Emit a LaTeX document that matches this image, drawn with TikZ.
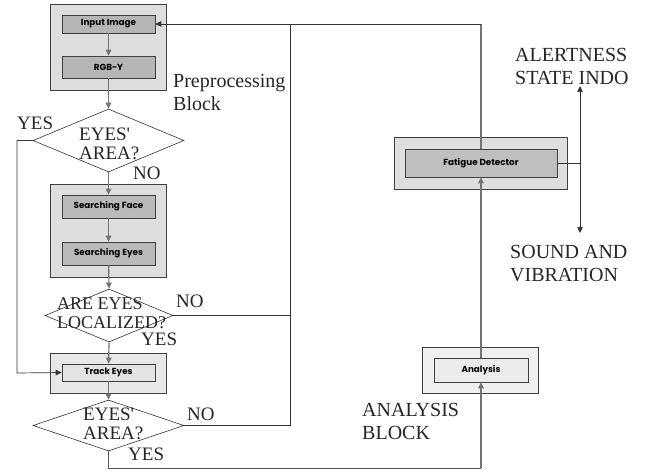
\documentclass[tikz,border=0pt]{standalone}
\usepackage{fontspec}
\setmainfont{Liberation Serif}
\newfontfamily\boxfont{Poppins}
\usetikzlibrary{arrows.meta,shapes.geometric}
\begin{document}
\begin{tikzpicture}[x=1pt,y=-1pt,
  outerbox/.style={draw=black!75, line width=0.6pt, fill=#1, rectangle, inner sep=0pt},
  innerbox/.style={draw=black!75, line width=0.6pt, fill=#1, rectangle, inner sep=0pt,
    font=\boxfont\bfseries\fontsize{8.8}{10}\selectfont},
  dec/.style={draw=black!80, line width=0.6pt, fill=white, diamond, inner sep=0pt},
  bigtext/.style={anchor=north west, inner sep=0pt, align=left, text=black!85,
    font=\fontsize{20}{23}\selectfont},
  dtext/.style={anchor=north west, inner sep=0pt, align=left, text=black!85,
    font=\fontsize{19}{19}\selectfont},
  conn/.style={draw=black!55, line width=1.2pt},
  fb/.style={draw=black!80, line width=0.7pt},
  tip/.style={-{Triangle[length=6pt,width=5.5pt]}},
]
\useasboundingbox (0,0) rectangle (646,473);
\fill[white] (0,0) rectangle (646,473);

% outer blocks
\node[outerbox=black!13, minimum width=116, minimum height=86] (pre) at (108,47) {};
\node[outerbox=black!13, minimum width=116, minimum height=93] (srch) at (108,230.5) {};
\node[outerbox=black!9, minimum width=116, minimum height=40] (trk) at (108,373) {};
\node[outerbox=black!13, minimum width=173, minimum height=52] (fatout) at (480.5,163) {};
\node[outerbox=black!6, minimum width=116, minimum height=46] (anaout) at (480,370) {};

% inner boxes
\node[innerbox=black!29, minimum width=93, minimum height=18] (input) at (108.5,24) {Input Image};
\node[innerbox=black!29, minimum width=93, minimum height=22] (rgb) at (108.5,67) {RGB-Y};
\node[innerbox=black!27, minimum width=93, minimum height=23] (face) at (108.5,206.5) {Searching Face};
\node[innerbox=black!27, minimum width=93, minimum height=23] (eyes) at (108.5,253.5) {Searching Eyes};
\node[innerbox=black!11, minimum width=93, minimum height=17] (track) at (108.5,372.5) {Track Eyes};
\node[innerbox=black!25, minimum width=152, minimum height=28] (fat) at (481,163) {Fatigue Detector};
\node[innerbox=black!8, minimum width=94, minimum height=24] (ana) at (481,370) {Analysis};

% decisions
\node[dec, minimum width=151, minimum height=63] (d1) at (108.5,140.5) {};
\node[dec, minimum width=128, minimum height=53] (d2) at (109,315.5) {};
\node[dec, minimum width=151, minimum height=51] (d3) at (108.5,425.5) {};

\node[dtext] (d1t) at (79,128) {EYES\textquotesingle\\AREA?};
\node[dtext, font=\fontsize{18}{19}\selectfont] (d2t) at (57,297) {ARE EYES\\LOCALIZED?};
\node[dtext] (d3t) at (83,408) {EYES\textquotesingle\\AREA?};

% labels
\node[bigtext] (prel) at (173,74) {Preprocessing\\Block};
\node[bigtext] (alert) at (515,48) {ALERTNESS\\STATE INDO};
\node[bigtext] (sound) at (510,245) {SOUND AND\\VIBRATION};
\node[bigtext] (anal) at (362,403) {ANALYSIS\\BLOCK};
\node[dtext] (yes1) at (17,117) {YES};
\node[dtext] (no1) at (133,167) {NO};
\node[dtext] (no2) at (176,295) {NO};
\node[dtext] (yes2) at (141,333) {YES};
\node[dtext] (no3) at (187,408) {NO};
\node[dtext] (yes3) at (128,448) {YES};

% coordinates
\coordinate (fbx) at (290,24);
\coordinate (yx) at (17,373);
\coordinate (bot) at (481,468);
\coordinate (fr) at (580,163);
\coordinate (alertpt) at (580,86);
\coordinate (soundpt) at (580,233);

% main flow
\draw[conn, tip] (input) -- (rgb);
\draw[conn, tip] (rgb) -- (d1.north);
\draw[conn, tip] (d1.south) -- (face);
\draw[conn, tip] (face) -- (eyes);
\draw[conn, tip] (eyes) -- (d2.north);
\draw[conn, tip] (d2.south) -- (track);
\draw[conn, tip] (track) -- (d3.north);

% YES bypass
\draw[fb, tip] (d1.west) -| (yx) -- (track.west);

% feedback
\draw[fb] (d3.east) -| (fbx);
\draw[fb] (d2.east) -- (d2.east -| fbx);
\draw[conn, draw=black!55] (fat.north) -- (fat.north |- fbx);
\draw[fb, tip] (fat.north |- fbx) -- (input.east);

% to analysis
\draw[fb, draw=black!65, line width=1pt] (d3.south) |- (bot);
\draw[conn, tip] (bot) -- (ana.south);
\draw[conn, tip] (ana.north) -- (fat.south);

% outputs
\draw[fb] (fat.east) -- (fr);
\draw[fb, tip] (fr) -- (alertpt);
\draw[fb, tip] (fr) -- (soundpt);
\end{tikzpicture}
\end{document}
